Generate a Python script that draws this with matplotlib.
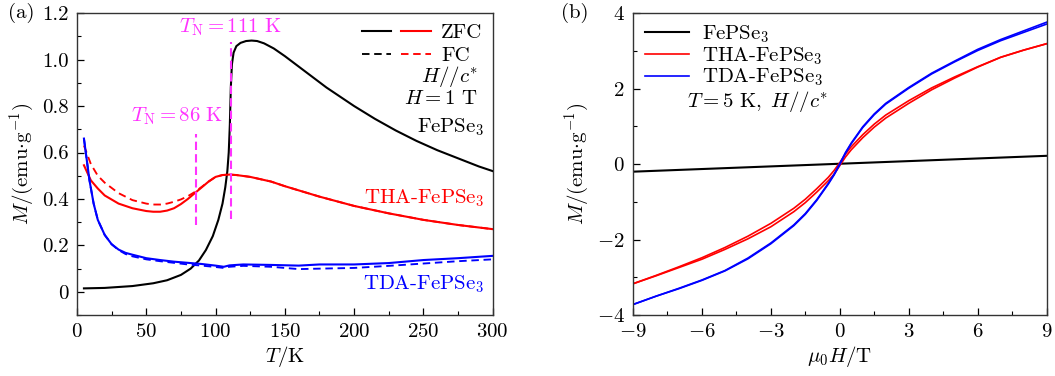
import matplotlib
matplotlib.use('Agg')
import matplotlib.pyplot as plt
from matplotlib.ticker import MultipleLocator, FuncFormatter
from matplotlib.lines import Line2D
from matplotlib.legend_handler import HandlerTuple

plt.rcParams['font.family'] = 'cmr10'
plt.rcParams['mathtext.fontset'] = 'cm'
plt.rcParams['axes.formatter.use_mathtext'] = True
plt.rcParams['font.size'] = 15
#
# ---- panel (a): M(T) ----
T_fe = [5, 20, 40, 55, 65, 75, 82, 88, 93, 98, 102, 105, 107, 108.5, 109.5, 110.3, 111, 111.8, 113,
        115, 118, 122, 126, 130, 135, 142, 150, 160, 170, 180, 190, 200, 215, 230, 245, 260, 275,
        290, 300]
M_fe = [0.015, 0.017, 0.025, 0.037, 0.05, 0.073, 0.1, 0.135, 0.18, 0.24, 0.31, 0.38, 0.45, 0.52,
        0.6, 0.72, 0.88, 0.98, 1.03, 1.058, 1.072, 1.08, 1.082, 1.08, 1.07, 1.048, 1.015, 0.97,
        0.925, 0.88, 0.84, 0.8, 0.745, 0.695, 0.65, 0.61, 0.575, 0.54, 0.52]

T_tha = [5, 10, 15, 20, 30, 40, 50, 55, 60, 65, 70, 75, 80, 85, 90, 95, 100, 105, 110, 115, 125, 140,
         150, 175, 200, 225, 250, 275, 300]
M_tha_zfc = [0.545, 0.48, 0.445, 0.415, 0.38, 0.36, 0.348, 0.345, 0.345, 0.35, 0.36, 0.378, 0.4,
             0.425, 0.45, 0.475, 0.495, 0.503, 0.505, 0.503, 0.495, 0.475, 0.455, 0.41, 0.37, 0.338,
             0.31, 0.288, 0.27]
M_tha_fc = [0.63, 0.55, 0.5, 0.47, 0.425, 0.395, 0.38, 0.376, 0.376, 0.38, 0.388, 0.398, 0.412,
            0.43, 0.452, 0.475, 0.495, 0.503, 0.505, 0.503, 0.495, 0.475, 0.455, 0.41, 0.37, 0.338,
            0.31, 0.288, 0.27]

T_tda = [5, 7, 9, 12, 15, 20, 25, 30, 35, 40, 50, 60, 70, 80, 90, 100, 106, 110, 120, 140, 160, 175,
         200, 225, 250, 275, 300]
M_tda_zfc = [0.66, 0.57, 0.48, 0.38, 0.31, 0.245, 0.205, 0.182, 0.168, 0.16, 0.145, 0.137, 0.13,
             0.125, 0.12, 0.113, 0.108, 0.114, 0.118, 0.116, 0.113, 0.118, 0.118, 0.124, 0.137,
             0.145, 0.155]
M_tda_fc = [0.66, 0.57, 0.48, 0.38, 0.31, 0.245, 0.205, 0.18, 0.163, 0.153, 0.14, 0.132, 0.125,
            0.118, 0.113, 0.107, 0.103, 0.108, 0.112, 0.108, 0.098, 0.1, 0.103, 0.112, 0.122,
            0.132, 0.14]

TN_fe = 111
TN_tha = 86
TN_fe_span = [0.315, 1.075]
TN_tha_span = [0.287, 0.68]

# ---- panel (b): M(H) at 5 K ----
H_fe = [-9, 9]
M_fe_H = [-0.2, 0.22]

H = [-9, -8, -7, -6, -5, -4, -3, -2, -1.5, -1, -0.5, -0.25, 0, 0.25, 0.5, 1, 1.5, 2, 3, 4, 5, 6, 7, 8, 9]
M_tha_dn = [-3.17, -2.95, -2.72, -2.48, -2.21, -1.91, -1.57, -1.17, -0.93, -0.65, -0.35, -0.17, 0.04,
            0.27, 0.46, 0.78, 1.06, 1.30, 1.68, 2.02, 2.31, 2.58, 2.83, 3.02, 3.19]
M_tha_up = [-3.17, -2.96, -2.74, -2.52, -2.26, -1.98, -1.66, -1.26, -1.02, -0.74, -0.44, -0.27, -0.04,
            0.19, 0.38, 0.70, 0.98, 1.22, 1.61, 1.97, 2.28, 2.57, 2.83, 3.02, 3.19]
M_tda_dn = [-3.72, -3.5, -3.29, -3.07, -2.82, -2.49, -2.09, -1.61, -1.31, -0.94, -0.51, -0.27, 0.01,
            0.31, 0.56, 0.99, 1.33, 1.61, 2.03, 2.41, 2.73, 3.04, 3.3, 3.53, 3.76]
M_tda_up = [-3.72, -3.5, -3.3, -3.08, -2.83, -2.51, -2.11, -1.63, -1.33, -0.96, -0.53, -0.29, -0.01,
            0.29, 0.54, 0.97, 1.31, 1.59, 2.01, 2.39, 2.71, 3.01, 3.27, 3.49, 3.71]
#
c_black = 'black'
c_red = '#ff0000'
c_blue = '#0000ff'
c_mag = '#ff33ff'
lw = 1.5
dash = (0, (4, 2.5))

fig = plt.figure(figsize=(10.55, 3.76), dpi=100)
ax1 = fig.add_axes([0.073, 0.162, 0.394, 0.803])
ax2 = fig.add_axes([0.600, 0.162, 0.392, 0.803])

def style_axes(ax):
	for s in ax.spines.values():
		s.set_color('#333333')
		s.set_linewidth(1.0)
	ax.tick_params(which='both', direction='in', top=False, right=False)
	ax.tick_params(which='major', length=5, width=0.9, pad=6)
	ax.tick_params(which='minor', length=3, width=0.8)
#
# panel (a)
ax1.plot(T_fe, M_fe, color=c_black, lw=lw)
ax1.plot(T_tha, M_tha_zfc, color=c_red, lw=lw)
ax1.plot(T_tha, M_tha_fc, color=c_red, lw=lw * 0.9, ls=dash)
ax1.plot(T_tda, M_tda_zfc, color=c_blue, lw=lw)
ax1.plot(T_tda, M_tda_fc, color=c_blue, lw=lw * 0.9, ls=dash)
ax1.plot([TN_fe, TN_fe], TN_fe_span, color=c_mag, lw=lw, ls=(0, (4, 2)))
ax1.plot([TN_tha, TN_tha], TN_tha_span, color=c_mag, lw=lw, ls=(0, (4, 2)))
ax1.text(TN_fe, 1.14, r'$T_{\mathrm{N}} = 111\ \mathrm{K}$', color=c_mag, ha='center', va='center')
ax1.text(TN_tha - 14, 0.755, r'$T_{\mathrm{N}} = 86\ \mathrm{K}$', color=c_mag, ha='center', va='center')

ax1.set_xlim(0, 300)
ax1.set_ylim(-0.1, 1.2)
ax1.xaxis.set_major_locator(MultipleLocator(50))
ax1.xaxis.set_minor_locator(MultipleLocator(25))
ax1.yaxis.set_major_locator(MultipleLocator(0.2))
ax1.yaxis.set_minor_locator(MultipleLocator(0.1))
ax1.yaxis.set_major_formatter(FuncFormatter(lambda v, p: '0' if abs(v) < 1e-9 else '%.1f' % v))
ax1.set_xlabel(r'$T/\mathrm{K}$', labelpad=2)
ax1.set_ylabel(r'$M/(\mathrm{emu{\cdot}g^{-1}})$', labelpad=4)
style_axes(ax1)

h_zfc = (Line2D([], [], color=c_black, lw=lw), Line2D([], [], color=c_red, lw=lw))
h_fc = (Line2D([], [], color=c_black, lw=lw * 0.9, ls=dash),
		Line2D([], [], color=c_red, lw=lw * 0.9, ls=dash))
ax1.legend([h_zfc, h_fc], ['ZFC', 'FC'], handler_map={tuple: HandlerTuple(ndivide=None, pad=0.5)},
		   loc='upper right', frameon=False, handlelength=3.3, handletextpad=0.5,
		   borderaxespad=0.0, borderpad=0.0, labelspacing=0.2, bbox_to_anchor=(0.975, 0.965))
ax1.text(0.963, 0.79, r'$H//c^{*}$', transform=ax1.transAxes, ha='right', va='center')
ax1.text(0.963, 0.717, r'$H = 1\ \mathrm{T}$', transform=ax1.transAxes, ha='right', va='center')
ax1.text(0.98, 0.623, r'FePSe$_3$', transform=ax1.transAxes, ha='right', va='center',
		 color=c_black)
ax1.text(0.98, 0.388, r'THA-FePSe$_3$', transform=ax1.transAxes, ha='right', va='center',
		 color=c_red)
ax1.text(0.98, 0.102, r'TDA-FePSe$_3$', transform=ax1.transAxes, ha='right', va='center',
		 color=c_blue)

# panel (b)
ax2.plot(H_fe, M_fe_H, color=c_black, lw=lw, label=r'FePSe$_3$')
ax2.plot(H, M_tha_dn, color=c_red, lw=1.2, label=r'THA-FePSe$_3$')
ax2.plot(H, M_tha_up, color=c_red, lw=1.2)
ax2.plot(H, M_tda_dn, color=c_blue, lw=1.2, label=r'TDA-FePSe$_3$')
ax2.plot(H, M_tda_up, color=c_blue, lw=1.2)
ax2.set_xlim(-9, 9)
ax2.set_ylim(-4, 4)
ax2.xaxis.set_major_locator(MultipleLocator(3))
ax2.xaxis.set_minor_locator(MultipleLocator(1.5))
ax2.yaxis.set_major_locator(MultipleLocator(2))
ax2.yaxis.set_minor_locator(MultipleLocator(1))
ax2.set_xlabel(r'$\mu_0H/\mathrm{T}$', labelpad=2)
ax2.set_ylabel(r'$M/(\mathrm{emu{\cdot}g^{-1}})$', labelpad=4)
style_axes(ax2)
ax2.legend(loc='upper left', frameon=False, handlelength=2.1, handletextpad=0.6,
		   labelspacing=0.0, borderaxespad=0.0, borderpad=0.0, bbox_to_anchor=(0.03, 0.965))
ax2.text(0.131, 0.708, r'$T = 5\ \mathrm{K},\ H//c^{*}$', transform=ax2.transAxes, ha='left', va='center')

fig.text(0.008, 0.965, '(a)', ha='left', va='center')
fig.text(0.532, 0.965, '(b)', ha='left', va='center')

plt.savefig('out.png', dpi=100)
